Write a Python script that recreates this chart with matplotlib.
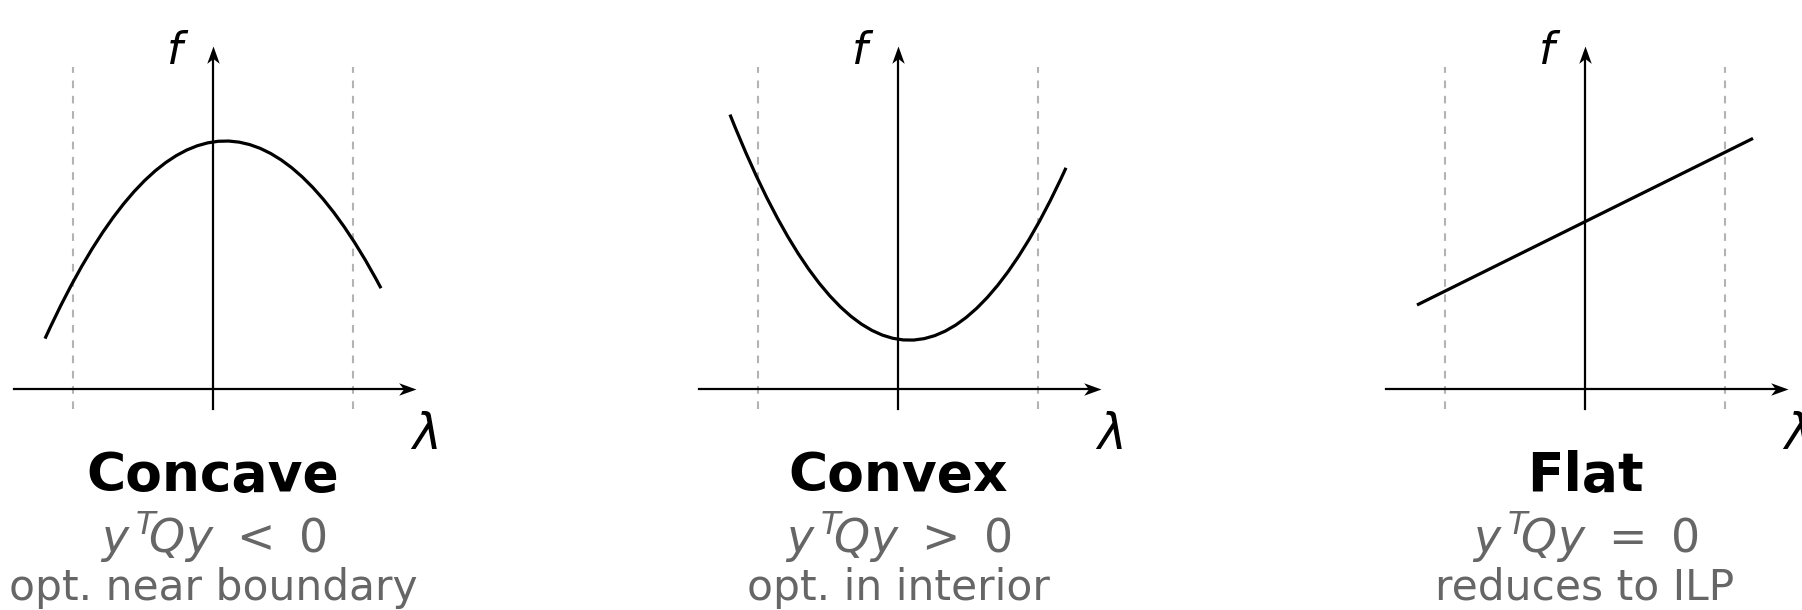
import numpy as np
import matplotlib.pyplot as plt
from matplotlib.path import Path
from matplotlib.patches import PathPatch

plt.rcParams['font.family'] = ['DejaVu Sans']
plt.rcParams['mathtext.fontset'] = 'dejavusans'
plt.rcParams['lines.scale_dashes'] = False

# panel titles and captions
titles = ['Concave', 'Convex', 'Flat']
conditions = [r'$y^{\,T}\!Qy\ <\ 0$', r'$y^{\,T}\!Qy\ >\ 0$', r'$y^{\,T}\!Qy\ =\ 0$']
notes = ['opt. near boundary', 'opt. in interior', 'reduces to ILP']

# curve control points (lambda, f): quadratic Bezier for the two parabolas, straight segment for the flat case
concave_pts = [(-1.2, 0.36), (0.0, 2.99), (1.2, 0.72)]
convex_pts = [(-1.2, 1.96), (0.0, -1.06), (1.2, 1.58)]
flat_pts = [(-1.2, 0.60), (1.2, 1.79)]
curves = [concave_pts, convex_pts, flat_pts]

# feasible interval bounds on lambda
bounds = [-1.0, 1.0]

W, H, DPI = 1802, 610, 100
UNIT = 140.0                       # pixels per data unit
origins_px = [213, 898, 1585]      # x pixel of each f-axis
axis_y_px = 389                    # y pixel of the lambda-axis

fig = plt.figure(figsize=(W / DPI, H / DPI), dpi=DPI)
ax = fig.add_axes([0, 0, 1, 1])
ax.set_xlim(0, W / UNIT)
ax.set_ylim((axis_y_px - H) / UNIT, axis_y_px / UNIT)
ax.axis('off')

GRAY = '#666666'
DASH = '#b3b3b3'

# stealth-style arrow heads, tip at the origin
head_pts = [(0, 0), (-1, 0.36), (-0.72, 0), (-1, -0.36), (0, 0)]
codes = [Path.MOVETO, Path.LINETO, Path.LINETO, Path.LINETO, Path.CLOSEPOLY]
head_right = Path(head_pts, codes)
head_up = Path([(y, x) for x, y in head_pts], codes)

x_lo, x_hi = -1.42, 1.45
y_lo, y_hi = -0.14, 2.45

for i, ox in enumerate(origins_px):
    x0 = ox / UNIT

    # interval bounds
    for b in bounds:
        ax.plot([x0 + b, x0 + b], [y_lo, 2.30], color=DASH, lw=1.5,
                dashes=(5.5, 5.5), zorder=1)

    # axes with arrow heads
    ax.plot([x0 + x_lo, x0 + x_hi - 0.05], [0, 0], color='black', lw=1.6, zorder=2)
    ax.plot([x0, x0], [y_lo, y_hi - 0.05], color='black', lw=1.6, zorder=2)
    ax.plot([x0 + x_hi], [0], marker=head_right, ms=25, color='black',
            mec='none', zorder=3)
    ax.plot([x0], [y_hi], marker=head_up, ms=25, color='black',
            mec='none', zorder=3)

    ax.text(x0 - 0.25, 2.32, r'$f$', fontsize=32, ha='center', va='baseline')
    ax.text(x0 + 1.51, -0.43, r'$\lambda$', fontsize=35, ha='center', va='baseline')

    # curve
    pts = curves[i]
    verts = [(x0 + px, py) for px, py in pts]
    if len(pts) == 3:
        pcodes = [Path.MOVETO, Path.CURVE3, Path.CURVE3]
    else:
        pcodes = [Path.MOVETO, Path.LINETO]
    ax.add_patch(PathPatch(Path(verts, pcodes), fill=False, lw=2.3,
                           edgecolor='black', capstyle='butt', zorder=4))

    # captions
    ax.text(x0, -0.729, titles[i], fontsize=38.5, fontweight='bold',
            ha='center', va='baseline')
    ax.text(x0, -1.171, conditions[i], fontsize=33, color=GRAY,
            ha='center', va='baseline')
    ax.text(x0, -1.507, notes[i], fontsize=30.5, color=GRAY,
            ha='center', va='baseline')

fig.savefig('out.png', dpi=DPI)
